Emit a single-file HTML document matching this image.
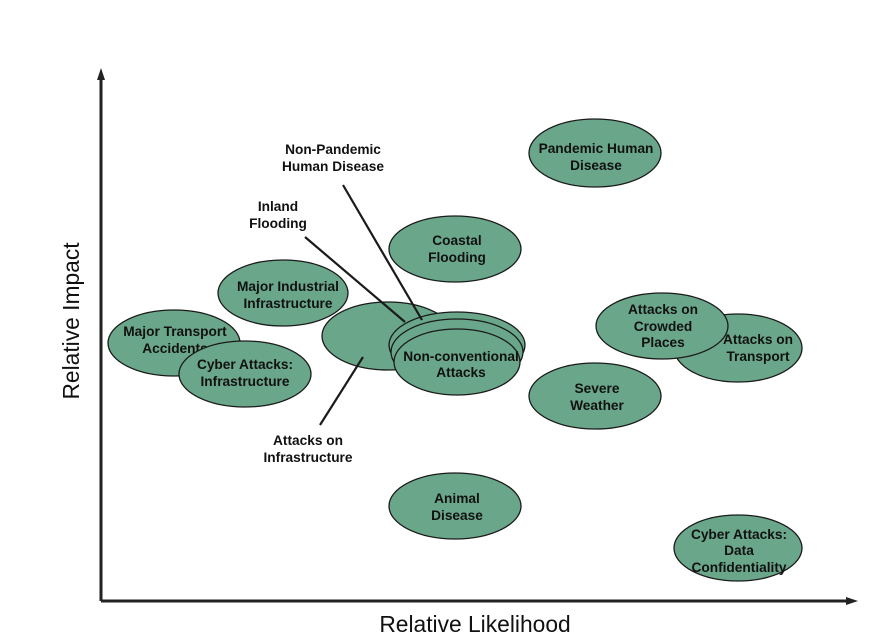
<!DOCTYPE html>
<html><head><meta charset="utf-8"><style>
body{margin:0;background:#fff}
svg{display:block}
text{font-family:"Liberation Sans",Arial,sans-serif;font-size:13.7px;font-weight:bold;fill:#111;text-anchor:middle}
.e{fill:#6aa78a;stroke:#1a1a1a;stroke-width:1.3}
.ax{font-weight:normal;font-size:22.8px;fill:#111}
</style></head><body>
<svg width="879" height="641" viewBox="0 0 879 641">
<line x1="101" y1="76" x2="101" y2="601" stroke="#222" stroke-width="3"/>
<polygon points="101,68 97,80 105,80" fill="#222"/>
<line x1="101" y1="601" x2="850" y2="601" stroke="#222" stroke-width="3"/>
<polygon points="858,601 846,597 846,605" fill="#222"/>
<text class="ax" x="475" y="632">Relative Likelihood</text>
<text class="ax" transform="translate(79,321) rotate(-90)">Relative Impact</text>

<ellipse class="e" cx="595" cy="153" rx="66" ry="34"/>
<text x="596" y="153">Pandemic Human</text><text x="596" y="170">Disease</text>
<ellipse class="e" cx="455" cy="249" rx="66" ry="33"/>
<text x="457" y="245">Coastal</text><text x="457" y="262">Flooding</text>
<ellipse class="e" cx="283" cy="293" rx="65" ry="33"/>
<text x="288" y="291">Major Industrial</text><text x="288" y="308">Infrastructure</text>
<ellipse class="e" cx="174" cy="343" rx="66" ry="33"/>
<text x="175" y="336">Major Transport</text><text x="175" y="353">Accidents</text>
<ellipse class="e" cx="245" cy="374" rx="66" ry="33"/>
<text x="245" y="369">Cyber Attacks:</text><text x="245" y="386">Infrastructure</text>
<ellipse class="e" cx="388" cy="336" rx="66" ry="34"/>
<ellipse class="e" cx="457" cy="345" rx="68" ry="33"/>
<ellipse class="e" cx="457" cy="352" rx="66" ry="33"/>
<ellipse class="e" cx="457" cy="362" rx="63" ry="33"/>
<text x="461" y="361">Non-conventional</text><text x="461" y="377">Attacks</text>
<ellipse class="e" cx="738" cy="348" rx="64" ry="34"/>
<text x="758" y="344">Attacks on</text><text x="758" y="361">Transport</text>
<ellipse class="e" cx="662" cy="326" rx="66" ry="33"/>
<text x="663" y="314">Attacks on</text><text x="663" y="331">Crowded</text><text x="663" y="347">Places</text>
<ellipse class="e" cx="595" cy="396" rx="66" ry="33"/>
<text x="597" y="393">Severe</text><text x="597" y="410">Weather</text>
<ellipse class="e" cx="455" cy="506" rx="66" ry="33"/>
<text x="457" y="503">Animal</text><text x="457" y="520">Disease</text>
<ellipse class="e" cx="738" cy="548" rx="64" ry="33"/>
<text x="739" y="539">Cyber Attacks:</text><text x="739" y="555">Data</text><text x="739" y="572">Confidentiality</text>

<line x1="343" y1="185" x2="422" y2="320" stroke="#1a1a1a" stroke-width="2.2"/>
<line x1="305" y1="237" x2="405" y2="322" stroke="#1a1a1a" stroke-width="2.2"/>
<line x1="320" y1="425" x2="363" y2="357" stroke="#1a1a1a" stroke-width="2.2"/>
<text x="333" y="154">Non-Pandemic</text><text x="333" y="171">Human Disease</text>
<text x="278" y="211">Inland</text><text x="278" y="228">Flooding</text>
<text x="308" y="445">Attacks on</text><text x="308" y="462">Infrastructure</text>
</svg>
</body></html>
